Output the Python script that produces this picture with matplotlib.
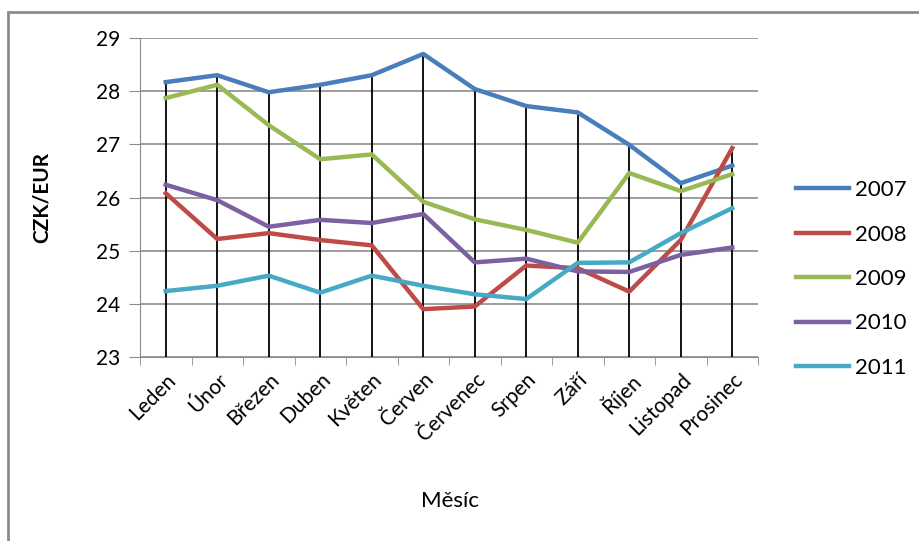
import matplotlib
matplotlib.use("Agg")
import matplotlib.pyplot as plt
import numpy as np
from matplotlib.lines import Line2D
from matplotlib.patches import Rectangle

months = ["Leden", "Únor", "Březen", "Duben", "Květen", "Červen", "Červenec",
          "Srpen", "Září", "Říjen", "Listopad", "Prosinec"]
y2007 = [28.17, 28.30, 27.98, 28.12, 28.30, 28.70, 28.04, 27.72, 27.60, 26.99, 26.27, 26.60]
y2008 = [26.08, 25.22, 25.33, 25.20, 25.10, 23.90, 23.95, 24.72, 24.67, 24.23, 25.20, 26.93]
y2009 = [27.87, 28.12, 27.36, 26.72, 26.81, 25.92, 25.59, 25.39, 25.15, 26.46, 26.12, 26.44]
y2010 = [26.24, 25.95, 25.45, 25.58, 25.52, 25.69, 24.78, 24.85, 24.61, 24.60, 24.92, 25.06]
y2011 = [24.24, 24.34, 24.53, 24.21, 24.53, 24.34, 24.18, 24.09, 24.77, 24.78, 25.33, 25.80]
series_names = ["2007", "2008", "2009", "2010", "2011"]
yticks = [23, 24, 25, 26, 27, 28, 29]

colors = ["#4A7EBB", "#BE4B48", "#98B954", "#7D60A0", "#46AAC5"]
series = [y2007, y2008, y2009, y2010, y2011]

plt.rcParams['font.family'] = ['Lato', 'DejaVu Sans']

fig = plt.figure(figsize=(9.19, 5.41), dpi=100)
ax = fig.add_axes([140/919, (541-357)/541, 618/919, 319/541])

x = np.arange(len(months))
top = np.max(np.array(series), axis=0)
ax.vlines(x, 23, top, color="black", lw=1.3, zorder=2)

for s, c, n in zip(series, colors, series_names):
    ax.plot(x, s, color=c, lw=3.2, label=n, zorder=3, solid_joinstyle='round')

ax.set_xlim(-0.5, len(months) - 0.5)
ax.set_ylim(23, 29)
ax.set_yticks(yticks)
ax.set_yticklabels([str(v) for v in yticks], fontsize=15)
ax.yaxis.grid(True, color="#8c8c8c", lw=1.2)
ax.set_axisbelow(True)
for sp in ["top", "right"]:
    ax.spines[sp].set_visible(False)
ax.spines["left"].set_color("#8c8c8c")
ax.spines["bottom"].set_color("#8c8c8c")
ax.tick_params(axis="y", direction="out", length=8, color="#8c8c8c", pad=6)

ax.set_xticks(x)
ax.set_xticklabels(months, rotation=45, ha="right", rotation_mode="anchor", fontsize=15)
ax.tick_params(axis="x", length=0, pad=9)
ax.set_xticks(np.arange(-0.5, len(months)), minor=True)
ax.tick_params(axis="x", which="minor", direction="out", length=6, color="#8c8c8c")

ax.set_ylabel("CZK/EUR", fontsize=15, fontweight="bold")
ax.set_xlabel("Měsíc", fontsize=16)
ax.xaxis.set_label_coords((450-140)/618, -(491-357)/319)
ax.yaxis.set_label_coords(-(140-52)/618, 0.5)

handles = [Line2D([0], [0], color=c, lw=3.2) for c in colors]
fig.legend(handles, series_names, loc="center left",
           bbox_to_anchor=(796/919, 1-279/541), frameon=False, borderpad=0,
           borderaxespad=0, fontsize=16, handlelength=2.4, labelspacing=1.1,
           handletextpad=0.25)

fig.patches.append(Rectangle((8/919, -0.1), 1.2, (541-12)/541 + 0.1,
                             transform=fig.transFigure, fill=False,
                             edgecolor="#8c8c8c", lw=2))

fig.savefig("out.png", dpi=100)
